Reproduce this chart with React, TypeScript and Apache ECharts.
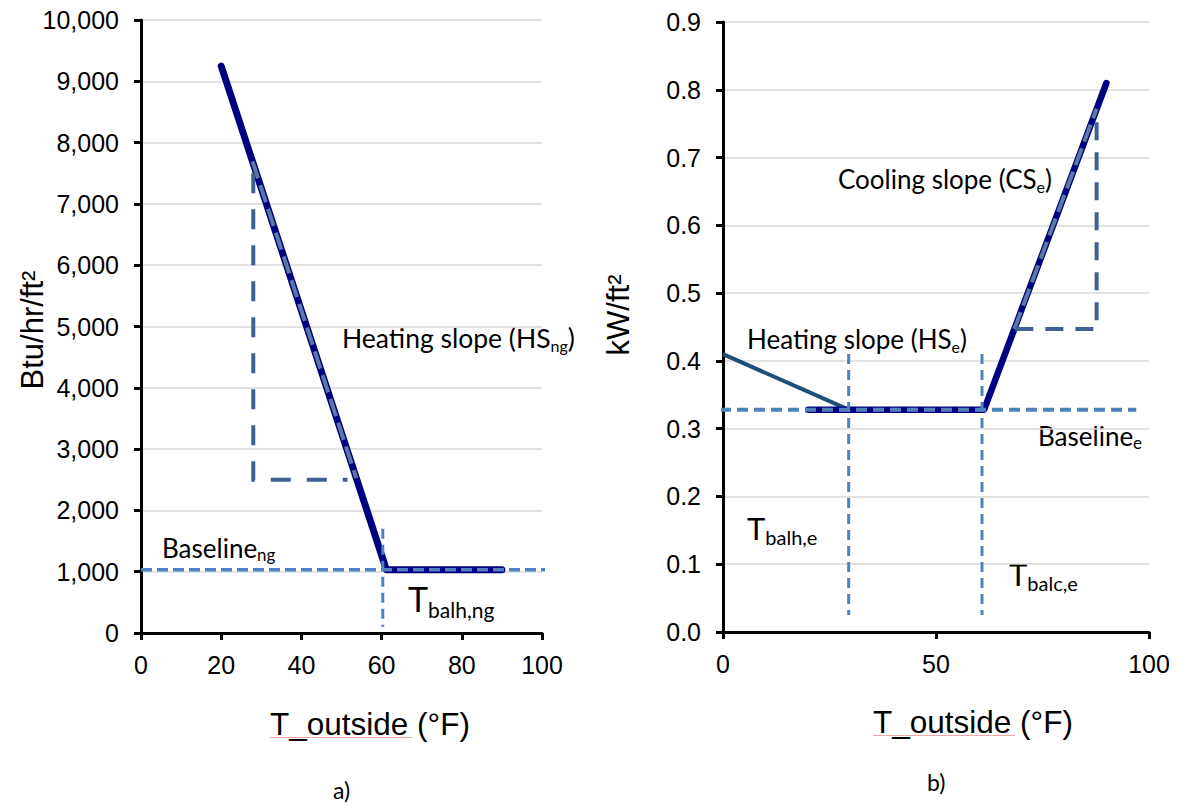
import React, { useEffect, useRef } from 'react';
import * as echarts from 'echarts';

// ---- data ----
const leftXTicks = [0, 20, 40, 60, 80, 100];
const leftMain = [[20, 9250], [61.2, 1030], [90, 1030]];
const leftSlopeOverlay = [[27.8, 7694], [53.7, 2527]];
const leftTriangleLegs = [[28, 7500], [28, 2500], [51.5, 2500]];
const leftBaseline = [[0, 1030], [102.5, 1030]];
const leftBalance = [[60.3, 1700], [60.3, 100]];

const rightXTicks = [0, 50, 100];
const rightHeating = [[0, 0.41], [29.5, 0.328]];
const rightMain = [[20, 0.328], [61.3, 0.328], [90, 0.81]];
const rightSlopeOverlay = [[68.4, 0.447], [87.7, 0.772]];
const rightTriangleLegs = [[87.7, 0.752], [87.7, 0.447], [68.4, 0.447]];
const rightBaseline = [[-0.7, 0.328], [97, 0.328]];
const rightBalanceH = [[29.5, 0.41], [29.5, 0.025]];
const rightBalanceC = [[60.8, 0.41], [60.8, 0.025]];

const NAVY = '#000080';
const STEEL = '#3f6190';
const OVERLAY = '#5b79a3';
const LIGHT = '#4f81bd';
const ANN_FONT = 'Lato';
const AX_FONT = 'Liberation Sans';

let ctx: CanvasRenderingContext2D | null = null;
function measure(text: string, font: string): number {
  if (!ctx) ctx = document.createElement('canvas').getContext('2d');
  ctx!.font = font;
  return ctx!.measureText(text).width;
}

type Part = { t: string; size: number; dy: number };
function label(x: number, baseline: number, parts: Part[], family = ANN_FONT, k = 0.387) {
  const els: any[] = [];
  let cx = x;
  for (const p of parts) {
    const font = `${p.size}px ${family}`;
    els.push({
      type: 'text',
      x: cx,
      y: baseline + p.dy - k * p.size,
      style: { text: p.t, font, fill: '#000', textAlign: 'left', textVerticalAlign: 'middle' },
    });
    cx += measure(p.t, font);
  }
  return els;
}

function line(x1: number, y1: number, x2: number, y2: number, color: string) {
  return { type: 'line', shape: { x1, y1, x2, y2 }, style: { stroke: color, lineWidth: 1 } };
}

function lineSeries(idx: number, data: number[][], color: string, width: number, type: any, z: number, extra: any = {}) {
  return {
    type: 'line',
    xAxisIndex: idx,
    yAxisIndex: idx,
    data,
    symbol: 'none',
    clip: false,
    z,
    lineStyle: { color, width, type, cap: 'round', join: 'round', ...extra },
    emphasis: { disabled: true },
    silent: true,
  };
}

export default function App() {
  const ref = useRef<HTMLDivElement>(null);
  useEffect(() => {
    const chart = echarts.init(ref.current!, undefined, { renderer: 'svg' });
    const axisLine = { show: true, onZero: false, lineStyle: { color: '#000', width: 3 } };
    const axisTick = { show: true, inside: false, length: 7, lineStyle: { color: '#000', width: 3 } };
    const axisLabelBase = { color: '#000', fontFamily: AX_FONT, fontSize: 25 };
    const grid = { show: false };
    const splitLine = { show: true, lineStyle: { color: '#d9d9d9', width: 1.5 } };

    const graphic: any[] = [
      ...label(342, 348, [
        { t: 'Heating slope (HS', size: 26.5, dy: 0 },
        { t: 'ng', size: 16, dy: 4 },
        { t: ')', size: 26.5, dy: 0 },
      ]),
      ...label(162, 558, [
        { t: 'Baseline', size: 26, dy: 0 },
        { t: 'ng', size: 17, dy: 3 },
      ]),
      ...label(408, 612, [
        { t: 'T', size: 34, dy: 0 },
        { t: 'balh,ng', size: 21, dy: 6 },
      ]),
      ...label(838, 189, [
        { t: 'Cooling slope (CS', size: 26, dy: 0 },
        { t: 'e', size: 16, dy: 4 },
        { t: ')', size: 26, dy: 0 },
      ]),
      ...label(747, 349, [
        { t: 'Heating slope (HS', size: 26, dy: 0 },
        { t: 'e', size: 16, dy: 4 },
        { t: ')', size: 26, dy: 0 },
      ]),
      ...label(1038, 446, [
        { t: 'Baseline', size: 26, dy: 0 },
        { t: 'e', size: 17, dy: 3 },
      ]),
      ...label(747, 540, [
        { t: 'T', size: 31, dy: 0 },
        { t: 'balh,e', size: 20, dy: 5 },
      ]),
      ...label(1009, 586, [
        { t: 'T', size: 31, dy: 0 },
        { t: 'balc,e', size: 20, dy: 5 },
      ]),
      ...label(270, 735, [{ t: 'T_outside (°F)', size: 31.5, dy: 0 }], AX_FONT, 0.347),
      ...label(873, 733, [{ t: 'T_outside (°F)', size: 31.5, dy: 0 }], AX_FONT, 0.347),
      line(270, 737.5, 412, 737.5, '#f4a6a6'),
      line(873, 735.5, 1015, 735.5, '#f4a6a6'),
      ...label(333, 799, [{ t: 'a)', size: 23, dy: 0 }]),
      ...label(927, 791, [{ t: 'b)', size: 23, dy: 0 }]),
      {
        type: 'text', x: 32, y: 330, rotation: Math.PI / 2,
        style: { text: 'Btu/hr/ft²', font: `31px ${AX_FONT}`, fill: '#000', textAlign: 'center', textVerticalAlign: 'middle' },
      },
      {
        type: 'text', x: 618, y: 315, rotation: Math.PI / 2,
        style: { text: 'kW/ft²', font: `31px ${AX_FONT}`, fill: '#000', textAlign: 'center', textVerticalAlign: 'middle' },
      },
    ];

    chart.setOption({
      animation: false,
      backgroundColor: '#fff',
      grid: [
        { left: 141, top: 20, width: 401, height: 613, ...grid },
        { left: 723, top: 22, width: 426, height: 610, ...grid },
      ],
      xAxis: [
        {
          type: 'value', gridIndex: 0, min: 0, max: 100, interval: 20,
          axisLine, axisTick, splitLine: { show: false },
          axisLabel: { ...axisLabelBase, margin: 19, formatter: (v: number) => (leftXTicks.includes(v) ? String(v) : '') },
        },
        {
          type: 'value', gridIndex: 1, min: 0, max: 100, interval: 50,
          axisLine, axisTick, splitLine: { show: false },
          axisLabel: { ...axisLabelBase, margin: 19, formatter: (v: number) => (rightXTicks.includes(v) ? String(v) : '') },
        },
      ],
      yAxis: [
        {
          type: 'value', gridIndex: 0, min: 0, max: 10000, interval: 1000,
          axisLine, axisTick, splitLine,
          axisLabel: { ...axisLabelBase, margin: 22, formatter: (v: number) => v.toLocaleString('en-US') },
        },
        {
          type: 'value', gridIndex: 1, min: 0, max: 0.9, interval: 0.1,
          axisLine, axisTick, splitLine,
          axisLabel: { ...axisLabelBase, margin: 22, formatter: (v: number) => v.toFixed(1) },
        },
      ],
      series: [
        lineSeries(0, leftMain, NAVY, 7, 'solid', 2),
        lineSeries(0, leftSlopeOverlay, OVERLAY, 4, [18, 7], 3, { cap: 'butt' }),
        lineSeries(0, leftTriangleLegs, STEEL, 4, [20, 16], 3, { cap: 'butt', join: 'miter' }),
        lineSeries(0, leftBaseline, LIGHT, 3.5, [11, 5], 4, { cap: 'butt' }),
        lineSeries(0, leftBalance, LIGHT, 3, [10, 6], 4, { cap: 'butt' }),

        lineSeries(1, rightHeating, '#1f4e79', 4, 'solid', 2, { cap: 'butt' }),
        lineSeries(1, rightMain, NAVY, 6.5, 'solid', 2),
        lineSeries(1, rightSlopeOverlay, OVERLAY, 4, [18, 7], 3, { cap: 'butt' }),
        lineSeries(1, rightTriangleLegs, STEEL, 4, [18, 12], 3, { cap: 'butt', join: 'miter' }),
        lineSeries(1, rightBaseline, LIGHT, 4, [11, 6], 4, { cap: 'butt' }),
        lineSeries(1, rightBalanceH, LIGHT, 3, [10, 6], 4, { cap: 'butt' }),
        lineSeries(1, rightBalanceC, LIGHT, 3, [10, 6], 4, { cap: 'butt' }),
      ],
      graphic,
    });
    return () => chart.dispose();
  }, []);
  return (
    <div
      ref={ref}
      style={{ position: 'absolute', left: 0, top: 0, width: 1178, height: 806, background: '#fff' }}
    />
  );
}
